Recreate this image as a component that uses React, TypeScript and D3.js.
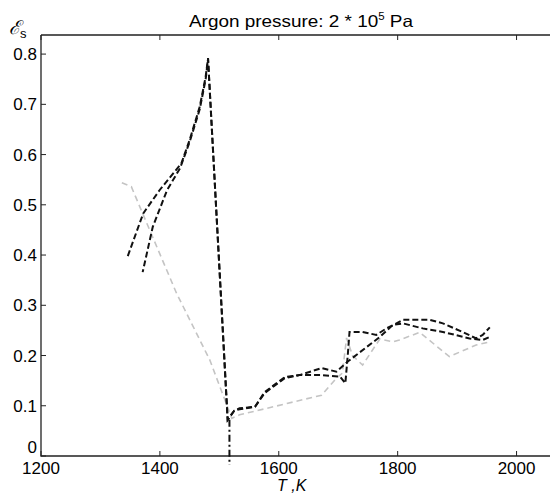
import React from 'react';
import * as d3 from 'd3';

// temperatures (K) and emissivity values
const blackATemp = [1346, 1372, 1400, 1436, 1450, 1467, 1477, 1481, 1514, 1525, 1534, 1560, 1576, 1610, 1635, 1672, 1697, 1716, 1770, 1792, 1809, 1842, 1876, 1921, 1943, 1955];
const blackAEps = [0.398, 0.483, 0.53, 0.582, 0.629, 0.695, 0.755, 0.792, 0.072, 0.09, 0.095, 0.098, 0.125, 0.155, 0.161, 0.175, 0.168, 0.188, 0.237, 0.261, 0.264, 0.254, 0.247, 0.234, 0.231, 0.237];

const blackBTemp = [1371, 1388, 1412, 1434, 1450, 1467, 1477, 1481, 1514, 1525, 1534, 1560, 1576, 1610, 1635, 1672, 1703, 1712, 1716, 1719, 1741, 1764, 1781, 1798, 1809, 1854, 1876, 1909, 1932, 1943, 1955];
const blackBEps = [0.366, 0.456, 0.529, 0.573, 0.625, 0.69, 0.75, 0.79, 0.072, 0.09, 0.093, 0.098, 0.127, 0.157, 0.161, 0.161, 0.158, 0.145, 0.2, 0.247, 0.247, 0.241, 0.254, 0.264, 0.271, 0.271, 0.264, 0.247, 0.234, 0.241, 0.256];

const grayTemp = [1336, 1352, 1372, 1428, 1484, 1521, 1534, 1672, 1697, 1707, 1714, 1724, 1741, 1770, 1792, 1803, 1837, 1887, 1932, 1955];
const grayEps = [0.544, 0.536, 0.48, 0.324, 0.191, 0.075, 0.082, 0.121, 0.155, 0.165, 0.235, 0.2, 0.181, 0.233, 0.227, 0.231, 0.246, 0.198, 0.221, 0.227];

const markerTemp = [1517, 1517];
const markerEps = [0.072, -0.018];

const xTicks = [1200, 1400, 1600, 1800, 2000];
const yTicks = [0, 0.1, 0.2, 0.3, 0.4, 0.5, 0.6, 0.7, 0.8];

const zip = (xs: number[], ys: number[]) => xs.map((x, i) => [x, ys[i]] as [number, number]);

const App = () => {
  const width = 550;
  const height = 495;
  const left = 41;
  const right = 576;
  const top = 35;
  const bottom = 456;

  const x = d3.scaleLinear().domain([1200, 2100]).range([left, right]);
  const y = d3.scaleLinear().domain([0, 0.838]).range([bottom, top]);

  const line = d3
    .line<[number, number]>()
    .x(d => x(d[0]))
    .y(d => y(d[1]));

  const font = "'Liberation Sans', Arial, sans-serif";

  return (
    <svg width={width} height={height} style={{ position: 'absolute', left: 0, top: 0 }}>
      <rect width={width} height={height} fill="#fff" />
      <text x={189} y={27} fontFamily={font} fontSize={16.5} textLength={224} lengthAdjust="spacingAndGlyphs">
        Argon pressure: 2 * 10<tspan dy={-7} fontSize={10}>5</tspan>
        <tspan dy={7}> Pa</tspan>
      </text>

      {/* frame */}
      <path d={`M${left},${top}H${right}M${left},${top}V${bottom}H${right}`} fill="none" stroke="#222" strokeWidth={1.3} />

      {xTicks.map(t => (
        <g key={t}>
          <line x1={x(t)} x2={x(t)} y1={bottom} y2={bottom - 5} stroke="#222" />
          <line x1={x(t)} x2={x(t)} y1={top} y2={top + 5} stroke="#222" />
          <text x={x(t)} y={474} fontFamily={font} fontSize={17} textAnchor="middle">{t}</text>
        </g>
      ))}
      {yTicks.map(t => (
        <g key={t}>
          <line x1={left} x2={left + 5} y1={y(t)} y2={y(t)} stroke="#222" />
          <text x={37} y={t === 0 ? y(t) - 3 : y(t) + 6} fontFamily={font} fontSize={17} textAnchor="end">{t === 0 ? '0' : t.toFixed(1)}</text>
        </g>
      ))}

      <text x={9} y={34} fontFamily="'DejaVu Serif', serif" fontStyle="italic" fontSize={19}>
        ℰ<tspan fontFamily={font} fontStyle="normal" fontSize={13} dy={4}>s</tspan>
      </text>
      <text x={277} y={491} fontFamily={font} fontStyle="italic" fontSize={16}>T ,K</text>

      <path d={line(zip(grayTemp, grayEps)) ?? ''} fill="none" stroke="#c4c4c4" strokeWidth={1.6} strokeDasharray="6,4" />
      <path d={line(zip(blackATemp, blackAEps)) ?? ''} fill="none" stroke="#111" strokeWidth={2} strokeDasharray="6,3" />
      <path d={line(zip(blackBTemp, blackBEps)) ?? ''} fill="none" stroke="#111" strokeWidth={2} strokeDasharray="6,3" strokeDashoffset={3} />
      <path d={line(zip(markerTemp, markerEps)) ?? ''} fill="none" stroke="#111" strokeWidth={2} strokeDasharray="7,3,2,3" />
    </svg>
  );
};

export default App;
